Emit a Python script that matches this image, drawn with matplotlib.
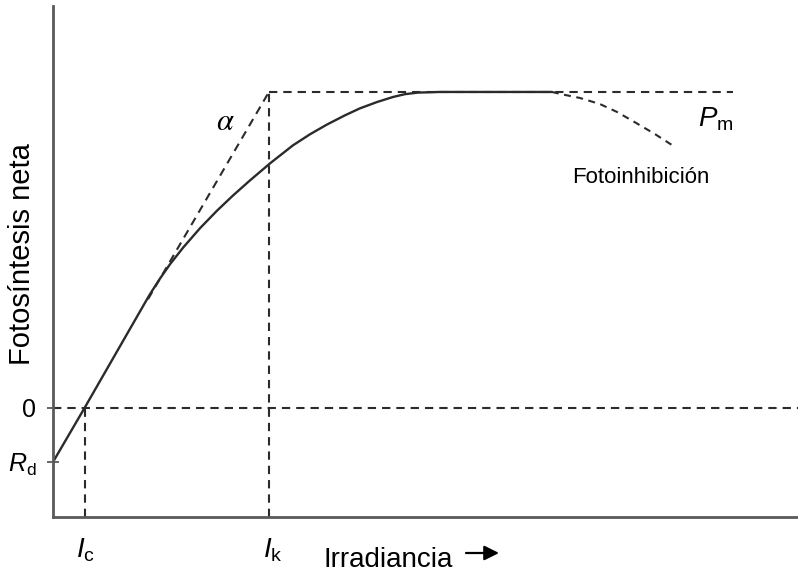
import matplotlib
matplotlib.use("Agg")
import matplotlib.pyplot as plt

plt.rcParams["font.family"] = ["Liberation Sans", "DejaVu Sans"]
plt.rcParams["mathtext.fontset"] = "custom"
plt.rcParams["mathtext.rm"] = "Liberation Sans"
plt.rcParams["mathtext.it"] = "Liberation Sans:italic"
plt.rcParams["lines.scale_dashes"] = False

# Model parameters (arbitrary units)
P_max = 10.0          # maximum photosynthesis
R_dark = -1.71        # dark respiration
I_k = 10.0            # saturation irradiance
I_c = 1.46            # compensation irradiance

# Net photosynthesis curve (irradiance, net photosynthesis)
curve_I = [0.00, 1.46, 4.26, 4.49, 4.95, 5.42, 6.02, 6.81, 7.59, 8.33,
           9.12, 10.05, 11.11, 11.90, 12.69, 13.52, 14.21, 15.00, 15.74,
           16.30, 16.90, 17.45, 17.92, 23.10]
curve_P = [-1.71, 0.00, 3.33, 3.60, 4.09, 4.55, 5.07, 5.69, 6.24, 6.72,
           7.20, 7.74, 8.31, 8.66, 8.97, 9.26, 9.48, 9.68, 9.84,
           9.93, 9.98, 9.99, 10.00, 10.00]

# Photoinhibition branch
inhib_I = [23.10, 23.61, 24.40, 25.32, 26.11, 26.85, 27.87, 28.80]
inhib_P = [10.00, 9.92, 9.81, 9.62, 9.37, 9.08, 8.67, 8.26]

x_max = 34.5
y_min, y_max = -3.45, 12.72
pm_line_end = 31.5
alpha_start = 4.4

fig = plt.figure(figsize=(7.98, 5.75), dpi=100)
ax = fig.add_axes([53 / 798, 58 / 575, 745 / 798, 511 / 575])
ax.set_xlim(0, x_max)
ax.set_ylim(y_min, y_max)

ink = "#2b2b2b"
dash = dict(color=ink, lw=1.5, dashes=(6.0, 4.3))

# Reference lines
ax.plot([0, x_max], [0, 0], clip_on=False, **dash)
ax.plot([I_c, I_c], [y_min, 0], **dash)
ax.plot([I_k, I_k], [y_min, P_max], **dash)
ax.plot([I_k, pm_line_end], [P_max, P_max], **dash)
slope = (P_max - R_dark) / I_k
ax.plot([alpha_start, I_k], [R_dark + slope * alpha_start, P_max], **dash)

# Curve and photoinhibition
ax.plot(curve_I, curve_P, color=ink, lw=1.7, solid_joinstyle="round",
        solid_capstyle="round")
ax.plot(inhib_I, inhib_P, color=ink, lw=1.5, dashes=(5.0, 4.0))

# Spines
for side in ("top", "right"):
    ax.spines[side].set_visible(False)
for side in ("left", "bottom"):
    ax.spines[side].set_color("#5a5a5a")
    ax.spines[side].set_linewidth(2.0)

ax.set_yticks([R_dark, 0], [r"$R_{\mathrm{d}}$", "0"])
ax.tick_params(axis="y", direction="inout", length=8, width=1.3,
               color="#5a5a5a", labelsize=18, pad=8)
ax.set_xticks([])

def px(x, y):
    return (x - 53) / 21.6, (408 - y) / 31.6

# Axis labels
ax.text(*px(86, 537), r"$I_{\mathrm{c}}$", fontsize=20, ha="center", va="top")
ax.text(*px(273, 537), r"$I_{\mathrm{k}}$", fontsize=20, ha="center", va="top")
ax.text(*px(388, 560), "Irradiancia", fontsize=20, ha="center", va="center")
ax.annotate("", xy=(499, 575 - 553), xytext=(466, 575 - 553),
            xycoords="figure pixels", textcoords="figure pixels",
            arrowprops=dict(arrowstyle="-|>", color="black", lw=1.6,
                            mutation_scale=22, shrinkA=0, shrinkB=0))
fig.text(22 / 798, 1 - 254 / 575, "Fotosíntesis neta", rotation=90,
         fontsize=21, ha="center", va="center")

# Annotations
ax.text(*px(225, 122), r"$\alpha$", fontsize=22, ha="center", va="center",
        math_fontfamily="stix")
ax.text(*px(716, 119), r"$P_{\mathrm{m}}$", fontsize=20, ha="center",
        va="center")
ax.text(*px(641, 178), "Fotoinhibición", fontsize=16, ha="center",
        va="center")

fig.savefig("out.png", dpi=100)
